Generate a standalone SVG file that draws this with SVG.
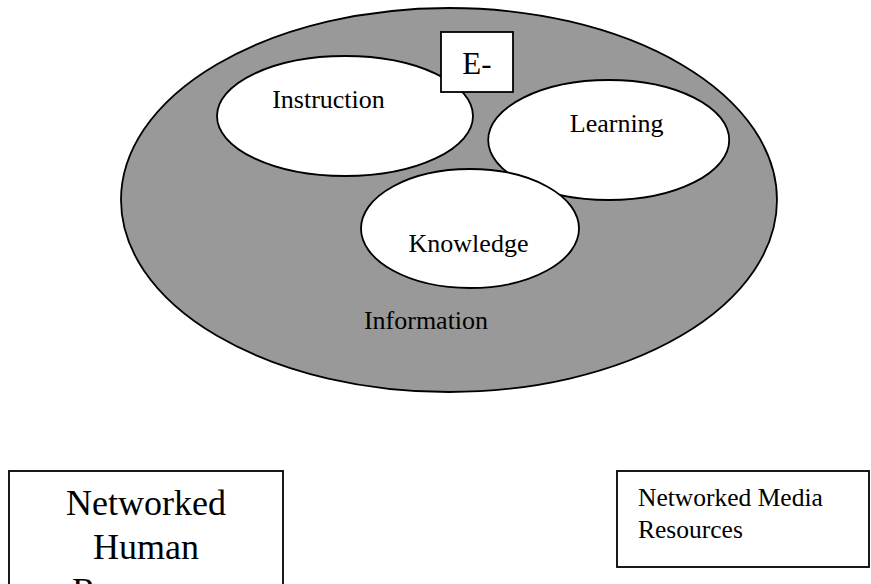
<svg xmlns="http://www.w3.org/2000/svg" width="871" height="584" viewBox="0 0 871 584">
<style>
.sh{stroke:#000;stroke-width:1.8}
.w{fill:#fff}
.t{font-family:"Liberation Serif","Times New Roman",serif;fill:#000}
.m{font-size:26px;text-anchor:middle}
</style>
<rect width="871" height="584" fill="#fff"/>
<g id="information">
<ellipse class="sh" cx="449" cy="200" rx="328" ry="192" fill="#999999"/>
<text class="t m" x="426" y="329">Information</text>
</g>
<g id="instruction">
<ellipse class="sh w" cx="345" cy="116" rx="128" ry="60"/>
<text class="t m" x="328.5" y="108">Instruction</text>
</g>
<g id="e-box">
<rect class="sh w" x="441" y="32" width="72" height="60" stroke-width="1.5"/>
<text class="t" x="477" y="74" font-size="31" text-anchor="middle">E-</text>
</g>
<g id="learning">
<ellipse class="sh w" cx="608.7" cy="140" rx="120.5" ry="60"/>
<text class="t m" x="616.7" y="132">Learning</text>
</g>
<g id="knowledge">
<ellipse class="sh w" cx="470" cy="228.5" rx="109" ry="59.5"/>
<text class="t m" x="468.5" y="252">Knowledge</text>
</g>
<g id="human-resources">
<rect class="sh w" x="9" y="471" width="274" height="140" stroke-width="1.5"/>
<text class="t" font-size="36" text-anchor="middle"><tspan x="146" y="515">Networked</tspan><tspan x="146" y="559">Human</tspan><tspan x="146" y="603">Resources</tspan></text>
</g>
<g id="media-resources">
<rect class="sh w" x="617" y="471" width="252" height="96" stroke-width="1.5"/>
<text class="t" font-size="25.5"><tspan x="638" y="506">Networked Media</tspan><tspan x="638" y="538">Resources</tspan></text>
</g>
<g id="connectors"/>
</svg>
